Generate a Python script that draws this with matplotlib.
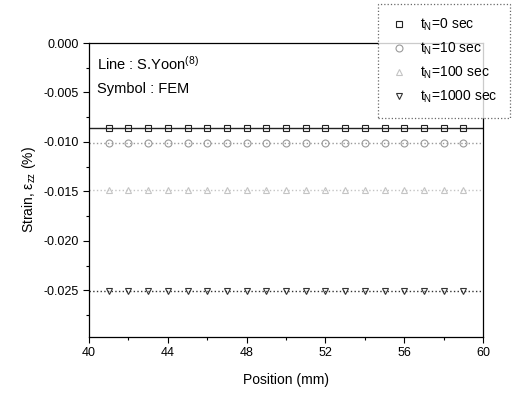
import matplotlib
matplotlib.use('Agg')
import matplotlib.pyplot as plt
from matplotlib.lines import Line2D
from matplotlib.ticker import MultipleLocator

plt.rcParams['font.family'] = ['Liberation Sans', 'DejaVu Sans']
plt.rcParams['mathtext.fontset'] = 'custom'
plt.rcParams['mathtext.rm'] = 'Liberation Sans'
plt.rcParams['mathtext.it'] = 'Liberation Sans'

# positions (mm)
position = [40, 41, 42, 43, 44, 45, 46, 47, 48, 49, 50,
            51, 52, 53, 54, 55, 56, 57, 58, 59, 60]

# strain levels for each holding time
labels = ['t$_N$=0 sec', 't$_N$=10 sec', 't$_N$=100 sec', 't$_N$=1000 sec']
strain_t0 = [-0.0086] * len(position)
strain_t10 = [-0.0101] * len(position)
strain_t100 = [-0.0148] * len(position)
strain_t1000 = [-0.0251] * len(position)

series = [strain_t0, strain_t10, strain_t100, strain_t1000]
markers = ['s', 'o', '^', 'v']
colors = ['#222222', '#9a9a9a', '#c4c4c4', '#333333']
styles = ['-', ':', ':', ':']

fig = plt.figure(figsize=(5.21, 3.95), dpi=100)
ax = fig.add_axes([89 / 521, 1 - 337 / 395, 394 / 521, 294 / 395])

for vals, m, c, ls in zip(series, markers, colors, styles):
    ax.plot(position, vals, linestyle=ls, color=c, lw=1.0,
            marker=m, markersize=5, markerfacecolor='none',
            markeredgecolor=c, markeredgewidth=0.8,
            markevery=slice(1, -1))

ax.set_xlim(40, 60)
ax.set_ylim(-0.0297, 0.0)
ax.xaxis.set_major_locator(MultipleLocator(4))
ax.xaxis.set_minor_locator(MultipleLocator(2))
ax.yaxis.set_major_locator(MultipleLocator(0.005))
ax.yaxis.set_minor_locator(MultipleLocator(0.0025))
ax.yaxis.set_major_formatter(plt.FuncFormatter(
    lambda v, p: '0.000' if abs(v) < 1e-9 else '%.3f' % v))
ax.tick_params(which='major', length=4, width=0.8, labelsize=9)
ax.tick_params(which='minor', length=2, width=0.8)
for s in ax.spines.values():
    s.set_linewidth(0.9)

ax.set_xlabel('Position (mm)', fontsize=10, labelpad=10)
ax.set_ylabel('Strain, $\\varepsilon_{zz}$ (%)', fontsize=10, labelpad=4)

ax.text(0.02, 0.93, 'Line : S.Yoon$^{(8)}$', transform=ax.transAxes,
        fontsize=10.5, va='center')
ax.text(0.02, 0.845, 'Symbol : FEM', transform=ax.transAxes,
        fontsize=10.5, va='center')

handles = [Line2D([], [], linestyle='none', marker=m, markersize=5,
                  markerfacecolor='none', markeredgecolor=c, markeredgewidth=0.8)
           for m, c in zip(markers, colors)]
leg = fig.legend(handles, labels, loc='upper left',
                 bbox_to_anchor=(378 / 521, 1 - 4 / 395),
                 fontsize=10, frameon=True, fancybox=False,
                 borderpad=0.9, labelspacing=0.55, handlelength=1.2,
                 handletextpad=0.9, borderaxespad=0)
leg.get_frame().set_edgecolor('#444444')
leg.get_frame().set_linestyle(':')
leg.get_frame().set_linewidth(0.9)

fig.savefig('out.png', dpi=100)
